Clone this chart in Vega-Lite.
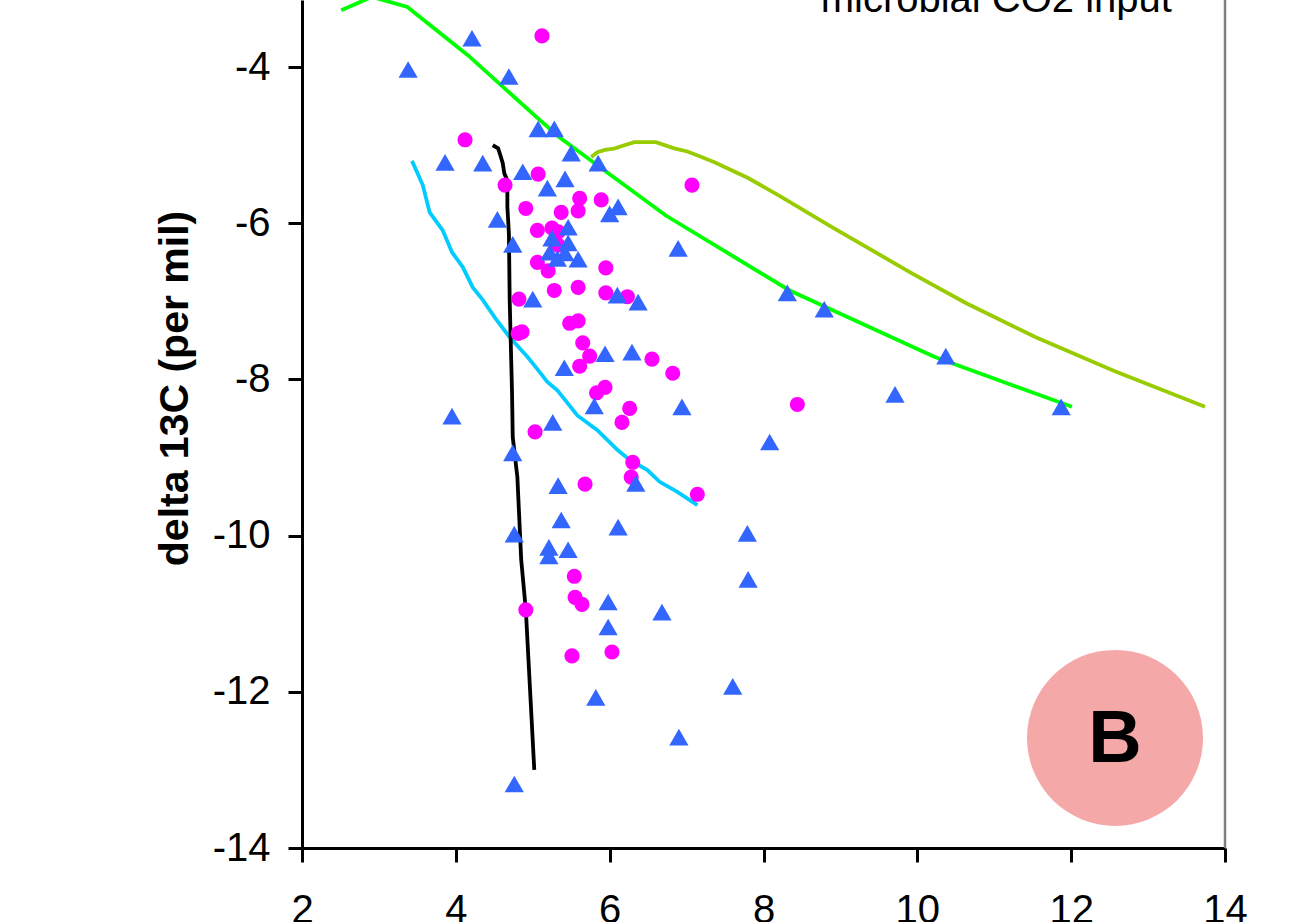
{
  "$schema": "https://vega.github.io/schema/vega-lite/v6.json",
  "autosize": {"type": "none"},
  "width": 923,
  "height": 848,
  "padding": {"left": 302, "top": 0, "right": 66, "bottom": 74},
  "background": "white",
  "config": {
    "view": {"stroke": null},
    "font": "Liberation Sans",
    "axis": {"grid": false, "domainColor": "black", "tickColor": "black", "labelColor": "black", "titleColor": "black", "domainWidth": 3, "tickWidth": 3, "tickSize": 14, "labelFontSize": 40, "labelFont": "Liberation Sans", "titleFont": "Liberation Sans", "labelOverlap": false, "labelFlush": false}
  },
  "datasets": {
    "lines": [
      {"series": "green", "i": 1, "x": 2.51, "y": -3.27},
      {"series": "green", "i": 2, "x": 2.91, "y": -3.10},
      {"series": "green", "i": 3, "x": 3.37, "y": -3.23},
      {"series": "green", "i": 4, "x": 4.16, "y": -3.85},
      {"series": "green", "i": 5, "x": 5.06, "y": -4.65},
      {"series": "green", "i": 6, "x": 5.35, "y": -4.90},
      {"series": "green", "i": 7, "x": 6.73, "y": -5.90},
      {"series": "green", "i": 8, "x": 8.34, "y": -6.86},
      {"series": "green", "i": 9, "x": 10.22, "y": -7.71},
      {"series": "green", "i": 10, "x": 12.01, "y": -8.35},
      {"series": "olive", "i": 1, "x": 5.76, "y": -5.15},
      {"series": "olive", "i": 2, "x": 5.84, "y": -5.09},
      {"series": "olive", "i": 3, "x": 5.94, "y": -5.06},
      {"series": "olive", "i": 4, "x": 6.07, "y": -5.04},
      {"series": "olive", "i": 5, "x": 6.16, "y": -5.01},
      {"series": "olive", "i": 6, "x": 6.32, "y": -4.96},
      {"series": "olive", "i": 7, "x": 6.60, "y": -4.96},
      {"series": "olive", "i": 8, "x": 6.84, "y": -5.04},
      {"series": "olive", "i": 9, "x": 7.01, "y": -5.08},
      {"series": "olive", "i": 10, "x": 7.17, "y": -5.14},
      {"series": "olive", "i": 11, "x": 7.37, "y": -5.22},
      {"series": "olive", "i": 12, "x": 7.80, "y": -5.42},
      {"series": "olive", "i": 13, "x": 8.23, "y": -5.66},
      {"series": "olive", "i": 14, "x": 8.89, "y": -6.05},
      {"series": "olive", "i": 15, "x": 9.93, "y": -6.64},
      {"series": "olive", "i": 16, "x": 10.63, "y": -7.02},
      {"series": "olive", "i": 17, "x": 11.54, "y": -7.46},
      {"series": "olive", "i": 18, "x": 12.56, "y": -7.89},
      {"series": "olive", "i": 19, "x": 13.74, "y": -8.35},
      {"series": "cyan", "i": 1, "x": 3.43, "y": -5.20},
      {"series": "cyan", "i": 2, "x": 3.57, "y": -5.51},
      {"series": "cyan", "i": 3, "x": 3.66, "y": -5.86},
      {"series": "cyan", "i": 4, "x": 3.83, "y": -6.09},
      {"series": "cyan", "i": 5, "x": 3.95, "y": -6.37},
      {"series": "cyan", "i": 6, "x": 4.09, "y": -6.56},
      {"series": "cyan", "i": 7, "x": 4.22, "y": -6.82},
      {"series": "cyan", "i": 8, "x": 4.35, "y": -6.98},
      {"series": "cyan", "i": 9, "x": 4.51, "y": -7.21},
      {"series": "cyan", "i": 10, "x": 4.70, "y": -7.46},
      {"series": "cyan", "i": 11, "x": 4.93, "y": -7.71},
      {"series": "cyan", "i": 12, "x": 5.07, "y": -7.88},
      {"series": "cyan", "i": 13, "x": 5.19, "y": -8.03},
      {"series": "cyan", "i": 14, "x": 5.32, "y": -8.14},
      {"series": "cyan", "i": 15, "x": 5.45, "y": -8.30},
      {"series": "cyan", "i": 16, "x": 5.58, "y": -8.46},
      {"series": "cyan", "i": 17, "x": 5.84, "y": -8.65},
      {"series": "cyan", "i": 18, "x": 6.10, "y": -8.90},
      {"series": "cyan", "i": 19, "x": 6.26, "y": -9.03},
      {"series": "cyan", "i": 20, "x": 6.49, "y": -9.16},
      {"series": "cyan", "i": 21, "x": 6.65, "y": -9.31},
      {"series": "cyan", "i": 22, "x": 6.88, "y": -9.44},
      {"series": "cyan", "i": 23, "x": 7.14, "y": -9.61},
      {"series": "black", "i": 1, "x": 4.48, "y": -5.00},
      {"series": "black", "i": 2, "x": 4.55, "y": -5.04},
      {"series": "black", "i": 3, "x": 4.57, "y": -5.10},
      {"series": "black", "i": 4, "x": 4.61, "y": -5.23},
      {"series": "black", "i": 5, "x": 4.63, "y": -5.36},
      {"series": "black", "i": 6, "x": 4.67, "y": -5.45},
      {"series": "black", "i": 7, "x": 4.67, "y": -5.79},
      {"series": "black", "i": 8, "x": 4.69, "y": -6.13},
      {"series": "black", "i": 9, "x": 4.70, "y": -6.98},
      {"series": "black", "i": 10, "x": 4.73, "y": -8.14},
      {"series": "black", "i": 11, "x": 4.74, "y": -8.74},
      {"series": "black", "i": 12, "x": 4.80, "y": -9.25},
      {"series": "black", "i": 13, "x": 4.85, "y": -10.31},
      {"series": "black", "i": 14, "x": 4.91, "y": -10.95},
      {"series": "black", "i": 15, "x": 5.02, "y": -13.00}
    ],
    "triangles": [
      {"x": 3.38, "y": -4.03}, {"x": 4.21, "y": -3.63}, {"x": 4.69, "y": -4.12}, {"x": 5.07, "y": -4.79},
      {"x": 5.28, "y": -4.79}, {"x": 5.50, "y": -5.10}, {"x": 5.85, "y": -5.23}, {"x": 3.86, "y": -5.22},
      {"x": 4.35, "y": -5.23}, {"x": 4.87, "y": -5.34}, {"x": 5.42, "y": -5.43}, {"x": 5.19, "y": -5.55},
      {"x": 6.11, "y": -5.79}, {"x": 6.00, "y": -5.88}, {"x": 4.54, "y": -5.95}, {"x": 5.46, "y": -6.05},
      {"x": 5.25, "y": -6.19}, {"x": 5.46, "y": -6.25}, {"x": 5.22, "y": -6.37}, {"x": 5.42, "y": -6.38},
      {"x": 5.32, "y": -6.45}, {"x": 5.59, "y": -6.46}, {"x": 4.74, "y": -6.27}, {"x": 6.89, "y": -6.32},
      {"x": 5.00, "y": -6.97}, {"x": 6.10, "y": -6.92}, {"x": 6.37, "y": -7.01}, {"x": 5.94, "y": -7.67},
      {"x": 6.29, "y": -7.65}, {"x": 5.41, "y": -7.85}, {"x": 5.80, "y": -8.34}, {"x": 6.94, "y": -8.35},
      {"x": 3.95, "y": -8.47}, {"x": 5.26, "y": -8.55}, {"x": 4.74, "y": -8.94}, {"x": 6.34, "y": -9.33},
      {"x": 5.33, "y": -9.36}, {"x": 5.37, "y": -9.80}, {"x": 6.11, "y": -9.89}, {"x": 4.76, "y": -9.98},
      {"x": 5.21, "y": -10.15}, {"x": 5.21, "y": -10.26}, {"x": 5.46, "y": -10.18}, {"x": 7.79, "y": -9.97},
      {"x": 7.80, "y": -10.56}, {"x": 5.98, "y": -10.85}, {"x": 6.68, "y": -10.98}, {"x": 5.98, "y": -11.17},
      {"x": 7.60, "y": -11.93}, {"x": 5.82, "y": -12.07}, {"x": 6.90, "y": -12.58}, {"x": 4.76, "y": -13.18},
      {"x": 8.31, "y": -6.89}, {"x": 8.79, "y": -7.10}, {"x": 10.37, "y": -7.70}, {"x": 9.71, "y": -8.19},
      {"x": 11.87, "y": -8.35}, {"x": 8.08, "y": -8.80}
    ],
    "circles": [
      {"x": 5.12, "y": -3.60}, {"x": 4.12, "y": -4.93}, {"x": 4.64, "y": -5.51}, {"x": 5.07, "y": -5.37},
      {"x": 4.91, "y": -5.81}, {"x": 5.61, "y": -5.68}, {"x": 5.59, "y": -5.84}, {"x": 5.89, "y": -5.70},
      {"x": 5.37, "y": -5.86}, {"x": 5.06, "y": -6.09}, {"x": 5.25, "y": -6.06}, {"x": 5.33, "y": -6.11},
      {"x": 5.33, "y": -6.28}, {"x": 5.06, "y": -6.50}, {"x": 5.20, "y": -6.61}, {"x": 5.95, "y": -6.57},
      {"x": 5.28, "y": -6.86}, {"x": 5.59, "y": -6.82}, {"x": 5.95, "y": -6.89}, {"x": 6.23, "y": -6.94},
      {"x": 4.82, "y": -6.97}, {"x": 5.48, "y": -7.28}, {"x": 5.59, "y": -7.25}, {"x": 4.81, "y": -7.41},
      {"x": 4.86, "y": -7.39}, {"x": 5.65, "y": -7.53}, {"x": 5.74, "y": -7.70}, {"x": 5.61, "y": -7.83},
      {"x": 6.55, "y": -7.74}, {"x": 6.82, "y": -7.92}, {"x": 5.83, "y": -8.17}, {"x": 5.94, "y": -8.10},
      {"x": 6.26, "y": -8.37}, {"x": 6.16, "y": -8.55}, {"x": 5.03, "y": -8.67}, {"x": 6.30, "y": -9.06},
      {"x": 6.28, "y": -9.25}, {"x": 5.68, "y": -9.34}, {"x": 7.14, "y": -9.47}, {"x": 5.54, "y": -10.52},
      {"x": 5.55, "y": -10.79}, {"x": 5.64, "y": -10.88}, {"x": 4.91, "y": -10.95}, {"x": 5.51, "y": -11.54},
      {"x": 6.03, "y": -11.49}, {"x": 7.07, "y": -5.51}, {"x": 8.44, "y": -8.32}
    ],
    "notes": [
      {"label": "microbial CO2 input", "x": 13.31, "y": -3.30}
    ],
    "badge": [
      {"label": "B", "x": 12.57, "y": -12.59}
    ]
  },
  "encoding": {
    "x": {"field": "x", "type": "quantitative",
      "scale": {"domain": [2, 14], "nice": false, "zero": false},
      "axis": {"title": null, "values": [2, 4, 6, 8, 10, 12, 14], "labelPadding": 28, "labelExpr": "toString(datum.value)"}},
    "y": {"field": "y", "type": "quantitative",
      "scale": {"domain": [-14, -3.14], "nice": false, "zero": false},
      "axis": {"title": "delta 13C (per mil)", "values": [-14, -12, -10, -8, -6, -4], "labelPadding": 18,
        "labelExpr": "toString(datum.value)", "titleFontSize": 41, "titleFontWeight": "bold",
        "titleX": -127, "titleY": 388, "titleBaseline": "middle", "titleAlign": "center", "titleAngle": -90}}
  },
  "layer": [
    {
      "data": {"name": "badge"},
      "mark": {"type": "point", "shape": "circle", "filled": true, "size": 30976, "color": "#f5a8a8", "opacity": 1}
    },
    {
      "data": {"name": "badge"},
      "mark": {"type": "text", "fontSize": 74, "fontWeight": "bold", "font": "Liberation Sans", "align": "center", "baseline": "middle", "color": "black", "dy": 2},
      "encoding": {"text": {"field": "label"}}
    },
    {
      "data": {"name": "lines"},
      "mark": {"type": "line", "strokeWidth": 3.8, "clip": true},
      "encoding": {
        "order": {"field": "i", "type": "quantitative"},
        "detail": {"field": "series"},
        "color": {"field": "series", "type": "nominal",
          "scale": {"domain": ["green", "olive", "cyan", "black"], "range": ["#00ff00", "#99cc00", "#00ccff", "#000000"]},
          "legend": null}
      }
    },
    {
      "data": {"name": "circles"},
      "mark": {"type": "point", "shape": "circle", "filled": true, "size": 230, "color": "#ff00ff", "opacity": 1}
    },
    {
      "data": {"name": "triangles"},
      "mark": {"type": "point", "shape": "triangle-up", "filled": true, "size": 370, "color": "#3366ff", "opacity": 1}
    },
    {
      "data": {"name": "notes"},
      "mark": {"type": "text", "fontSize": 40, "font": "Liberation Sans", "align": "right", "baseline": "alphabetic", "color": "black"},
      "encoding": {"text": {"field": "label"}}
    },
    {
      "data": {"values": [{"x": 14}]},
      "mark": {"type": "rule", "color": "#808080", "strokeWidth": 2.5},
      "encoding": {"x": {"field": "x", "type": "quantitative"}, "y": {"value": 0}, "y2": {"value": 848}}
    }
  ]
}
